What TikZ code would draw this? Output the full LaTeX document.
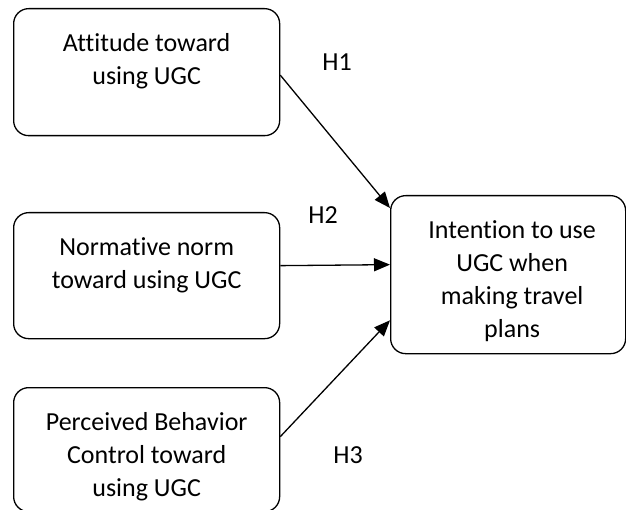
\documentclass[tikz,border=0pt]{standalone}
\usepackage{fontspec}
\setmainfont[Ligatures=NoCommon]{Carlito}
\usetikzlibrary{arrows.meta,calc,positioning}
\tikzset{factor/.style={draw, rounded corners=15pt, line width=1.3pt, inner sep=0pt, anchor=north west},
	hypo/.style={line width=1.3pt, arrows = {-Triangle[length=16pt, width=13pt]}},
	hlabel/.style={font=\fontsize{26}{33}\selectfont}}
\newcommand{\boxtext}[3]{\parbox[c][#2pt][t]{#1pt}{\centering\fontsize{26}{33}\selectfont\vspace*{25pt}#3\par}}

\begin{document}
\begin{tikzpicture}[x=1pt,y=-1pt]
	\clip (0,0) rectangle (626,510);
	
	\node[factor] (att) at (13,8) {\boxtext{266}{127}{Attitude toward\\using UGC}};
	\node[factor] (norm) at (13,212) {\boxtext{266}{126}{Normative norm\\toward using UGC}};
	\node[factor] (perc) at (13,387) {\boxtext{266}{124}{Perceived Behavior\\Control toward\\using UGC}};
	
	\node[factor] (int) at (390,195) {\boxtext{235}{158}{\hspace*{8pt}Intention to use\\\hspace*{8pt}UGC when\\\hspace*{8pt}making travel\\\hspace*{8pt}plans}};
	
	\node[hlabel] (h1) at (337,62) {H1};
	\node[hlabel] (h2) at (323,215) {H2};
	\node[hlabel] (h3) at (348,455) {H3};
	
	\draw[hypo] ([yshift=-3pt]att.east) -- ([yshift=-13pt]int.north west);
	\draw[hypo] ([yshift=10pt]norm.east) -- ([yshift=10pt]int.west);
	\draw[hypo] ([yshift=13pt]perc.east) -- ([yshift=34pt]int.south west);
\end{tikzpicture}
\end{document}
